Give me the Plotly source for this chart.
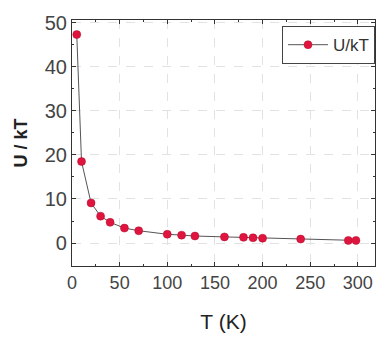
import plotly.graph_objects as go

T_K = [5, 10, 20, 30, 40, 55, 70, 100, 115, 129, 160, 180, 190, 200, 240, 290, 298]
U_kT = [47.3, 18.5, 9.1, 6.1, 4.7, 3.4, 2.8, 2.0, 1.8, 1.6, 1.4, 1.3, 1.2, 1.1, 0.9, 0.6, 0.6]
x_ticks = [0, 50, 100, 150, 200, 250, 300]
y_ticks = [0, 10, 20, 30, 40, 50]

fig = go.Figure()
fig.add_trace(go.Scatter(
    x=T_K, y=U_kT, mode="lines+markers", name="U/kT",
    line=dict(color="#555555", width=1),
    marker=dict(color="#e0153f", size=8, line=dict(color="#b00a2a", width=0.5)),
))

axis_common = dict(
    showline=True, linecolor="#333333", linewidth=1.2, mirror="ticks",
    ticks="inside", ticklen=4, tickcolor="#333333",
    showgrid=True, gridcolor="#e2e2e2", griddash="dash", gridwidth=1,
    zeroline=False,
    minor=dict(ticks="inside", ticklen=2, tickcolor="#333333", showgrid=False),
)

fig.update_layout(
    width=378, height=337,
    margin=dict(l=72, r=3, t=20, b=71),
    paper_bgcolor="white", plot_bgcolor="white",
    showlegend=True,
    legend=dict(x=1.0, y=0.975, xanchor="right", yanchor="top",
                bordercolor="#444444", borderwidth=1, bgcolor="white",
                font=dict(family="Liberation Sans, Arial", size=17, color="#333333"),
                itemwidth=40, tracegroupgap=0),
    xaxis=dict(range=[0, 318], tickvals=x_ticks, **axis_common,
               tickfont=dict(family="Liberation Sans, Arial", size=18, color="#444444"),
               title=dict(text="T (K)", standoff=22,
                          font=dict(family="Liberation Sans, Arial", size=21, color="#222222"))),
    yaxis=dict(range=[-5.2, 50.6], tickvals=y_ticks, **axis_common,
               tickfont=dict(family="Liberation Sans, Arial", size=20, color="#444444"),
               title=dict(text="<b>U / kT</b>", standoff=12,
                          font=dict(family="Liberation Sans, Arial", size=18, color="#222222"))),
)
fig.update_xaxes(minor=dict(dtick=25, tick0=0))
fig.update_yaxes(minor=dict(dtick=5, tick0=0))

fig.write_html("out.html")
